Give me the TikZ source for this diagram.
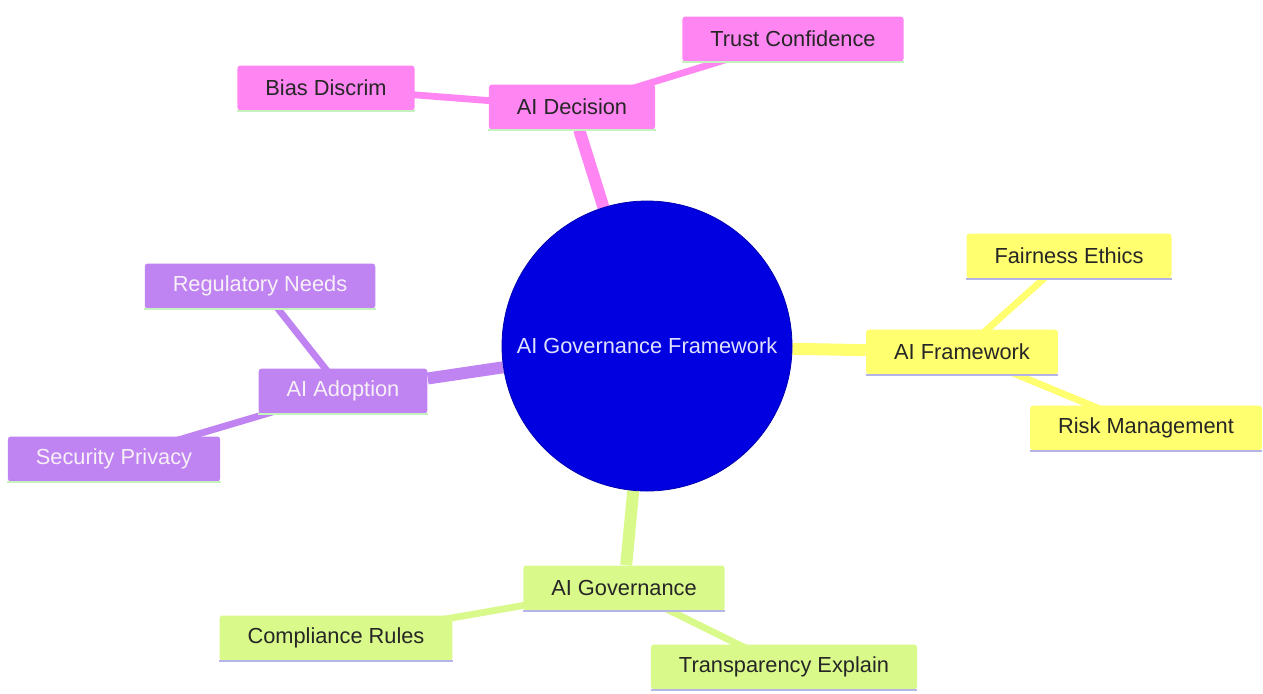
\documentclass[tikz,border=0pt]{standalone}
\usepackage{fontspec}
\setmainfont{Liberation Sans}
\usetikzlibrary{backgrounds}
\definecolor{decpink}{HTML}{FF85F2}
\definecolor{adoptpurple}{HTML}{C083F2}
\definecolor{frameyellow}{HTML}{FFFF70}
\definecolor{govgreen}{HTML}{D9F98A}
\definecolor{ulgreen}{HTML}{C6F2C0}
\definecolor{ullav}{HTML}{B4B4E6}
\definecolor{hubblue}{HTML}{0000E0}
\tikzset{
	box/.style={fill=#1,rounded corners=1.5pt,minimum height=22.5pt,inner xsep=14pt,
		font=\fontsize{10.9}{13}\selectfont},
	uline/.style={append after command={(\tikzlastnode.south west) edge[draw=#1,line width=1.4pt,sharp corners] (\tikzlastnode.south east)}},
	decbox/.style={box=decpink,uline=ulgreen,text=black!85},
	adoptbox/.style={box=adoptpurple,uline=ulgreen,text=white!94!violet},
	framebox/.style={box=frameyellow,uline=ullav,text=black!85},
	govbox/.style={box=govgreen,uline=ullav,text=black!85},
}
\begin{document}
\begin{tikzpicture}[x=.5pt,y=-.5pt,
	hub/.style={circle,fill=hubblue,draw=blue!70!black,minimum size=145pt,inner sep=0pt,
		text=white!88!blue,font=\fontsize{10.9}{13}\selectfont},
	trunk/.style={line width=6pt},
	twig/.style={line width=3.4pt}]
	\useasboundingbox (0,0) rectangle (1263,693);
	\node[hub] (ai) at (647,346) {AI Governance Framework};
	\node[decbox] (dec) at (572,107) {AI Decision};
	\node[decbox] (bias) at (326,88) {Bias Discrim};
	\node[decbox] (trust) at (793,39) {Trust Confidence};
	\node[adoptbox] (adopt) at (343,391) {AI Adoption};
	\node[adoptbox] (reg) at (260,286) {Regulatory Needs};
	\node[adoptbox] (sec) at (114,459) {Security Privacy};
	\node[framebox] (frame) at (962,352) {AI Framework};
	\node[framebox] (fair) at (1069,256) {Fairness Ethics};
	\node[framebox] (risk) at (1146,428) {Risk Management};
	\node[govbox] (gov) at (624,588) {AI Governance};
	\node[govbox] (comp) at (336,638) {Compliance Rules};
	\node[govbox] (transp) at (784,667) {Transparency Explain};
	\begin{scope}[on background layer]
		\draw[trunk,decpink] (ai)--(dec);
		\draw[twig,decpink] (dec.center)--(bias.center);
		\draw[twig,decpink] (dec.center)--(trust.center);
		\draw[trunk,adoptpurple] (ai)--(adopt);
		\draw[twig,adoptpurple] (adopt.center)--(reg.center);
		\draw[twig,adoptpurple] (adopt.center)--(sec.center);
		\draw[trunk,frameyellow] (ai)--(frame);
		\draw[twig,frameyellow] (frame.center)--(fair.center);
		\draw[twig,frameyellow] (frame.center)--(risk.center);
		\draw[trunk,govgreen] (ai)--(gov);
		\draw[twig,govgreen] (gov.center)--(comp.center);
		\draw[twig,govgreen] (gov.center)--(transp.center);
	\end{scope}
\end{tikzpicture}
\end{document}
